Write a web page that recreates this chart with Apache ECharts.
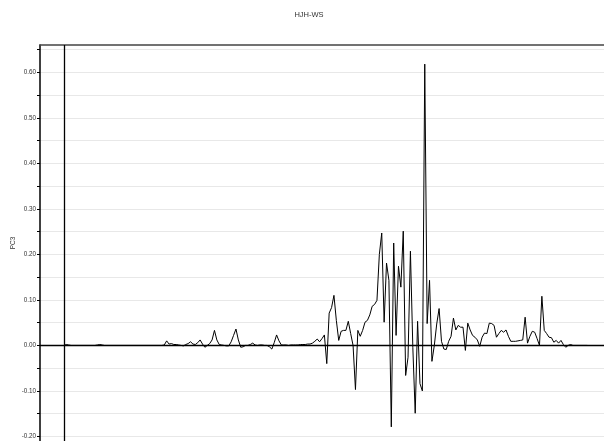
<!DOCTYPE html>
<html>
<head>
<meta charset="utf-8">
<script src="https://cdn.jsdelivr.net/npm/echarts@6/dist/echarts.min.js"></script>
<style>
  html, body { margin: 0; padding: 0; background: #fff; }
  #chart { width: 604px; height: 441px; }
</style>
</head>
<body>
<div id="chart"></div>
<script>
// PC3 score profile for sample HJH-WS, one value per scan index
const pc3Values = [
  0, 0.002, 0.001, 0, 0, 0, 0, 0, 0, 0,
  0, 0, 0, 0, 0.001, 0.002, 0.001, 0, 0, 0,
  0, 0, 0, 0, 0, 0, 0, 0, 0, 0,
  0, 0, 0, 0, 0, 0, 0, 0, 0, 0,
  0, 0, 0.001, 0.010, 0.003, 0.004, 0.002, 0.002, 0.001, 0,
  -0.001, 0.002, 0.004, 0.008, 0.003, 0.002, 0.006, 0.012, 0.003, -0.004,
  0, 0.004, 0.012, 0.033, 0.012, 0.002, 0.001, 0, -0.001, -0.001,
  0.008, 0.022, 0.036, 0.012, -0.004, -0.003, 0, 0, 0.002, 0.005,
  0.001, 0, 0.001, 0.001, 0, 0, -0.003, -0.008, 0.006, 0.023,
  0.010, 0.001, 0.001, 0.001, 0, 0.001, 0.001, 0.001, 0.001, 0.002,
  0.002, 0.002, 0.003, 0.003, 0.005, 0.009, 0.014, 0.008, 0.015, 0.023,
  -0.040, 0.071, 0.083, 0.110, 0.055, 0.011, 0.031, 0.033, 0.033, 0.053,
  0.026, 0.000, -0.097, 0.033, 0.020, 0.033, 0.051, 0.055, 0.067, 0.086,
  0.090, 0.099, 0.200, 0.247, 0.051, 0.181, 0.143, -0.179, 0.225, 0.022,
  0.174, 0.128, 0.251, -0.066, -0.026, 0.207, -0.004, -0.149, 0.053, -0.084,
  -0.100, 0.618, 0.048, 0.143, -0.035, 0.000, 0.047, 0.081, 0.009, -0.008,
  -0.009, 0.009, 0.020, 0.060, 0.034, 0.044, 0.040, 0.040, -0.011, 0.049,
  0.034, 0.022, 0.018, 0.012, -0.002, 0.018, 0.027, 0.026, 0.049, 0.048,
  0.044, 0.018, 0.026, 0.033, 0.029, 0.034, 0.020, 0.009, 0.009, 0.009,
  0.010, 0.011, 0.012, 0.062, 0.005, 0.020, 0.031, 0.029, 0.015, 0.000,
  0.108, 0.033, 0.026, 0.018, 0.017, 0.007, 0.011, 0.005, 0.011, 0.002,
  -0.004, 0.000, 0.002, 0.000, 0, 0, 0, 0, 0, 0
];

// Y axis: labelled ticks every 0.10, minor ticks and grid lines every 0.05
const yLabelValues = [-0.20, -0.10, 0.00, 0.10, 0.20, 0.30, 0.40, 0.50, 0.60];
const yTickValues = [-0.20, -0.15, -0.10, -0.05, 0.00, 0.05, 0.10, 0.15, 0.20,
                     0.25, 0.30, 0.35, 0.40, 0.45, 0.50, 0.55, 0.60, 0.65];

const titleText = 'HJH-WS';
const yAxisName = 'PC3';

const seriesData = pc3Values.map((v, i) => [i, v]);

const fontFamily = 'Liberation Sans, Arial, sans-serif';

const chart = echarts.init(document.getElementById('chart'), null, { renderer: 'canvas' });

chart.setOption({
  animation: false,
  backgroundColor: '#ffffff',
  title: {
    text: titleText,
    left: 304,
    top: 6,
    textAlign: 'center',
    textStyle: { fontFamily, fontSize: 7.5, fontWeight: 'normal', color: '#333' }
  },
  grid: { left: 40, right: 0, top: 45, bottom: 0, containLabel: false, outerBoundsMode: 'none' },
  xAxis: {
    type: 'value',
    min: -10,
    max: 226,
    position: 'top',
    axisLine: { show: true, onZero: false, lineStyle: { color: '#444', width: 1.5 } },
    axisTick: { show: false },
    axisLabel: { show: false },
    splitLine: { show: false }
  },
  yAxis: {
    type: 'value',
    min: -0.21,
    max: 0.66,
    name: yAxisName,
    nameLocation: 'middle',
    nameGap: 23,
    nameRotate: 90,
    nameMoveOverlap: false,
    nameTextStyle: { fontFamily, fontSize: 6.5, color: '#333' },
    axisLine: { show: true, onZero: false, lineStyle: { color: '#000', width: 1.5 } },
    axisTick: {
      show: true,
      length: 3,
      customValues: yTickValues,
      lineStyle: { color: '#000', width: 1 }
    },
    axisLabel: {
      show: true,
      customValues: yLabelValues,
      margin: 4,
      fontFamily,
      fontSize: 6.3,
      color: '#333',
      formatter: (v) => v.toFixed(2)
    },
    splitLine: { show: true, lineStyle: { color: '#e8e8e8', width: 1 } }
  },
  series: [{
    type: 'line',
    data: seriesData,
    showSymbol: false,
    symbol: 'none',
    lineStyle: { color: '#000', width: 1 },
    z: 3,
    markLine: {
      silent: true,
      symbol: ['none', 'none'],
      label: { show: false },
      lineStyle: { color: '#000', width: 1.3, type: 'solid' },
      data: [{ xAxis: 0 }, { yAxis: 0 }]
    }
  }]
});
</script>
</body>
</html>
